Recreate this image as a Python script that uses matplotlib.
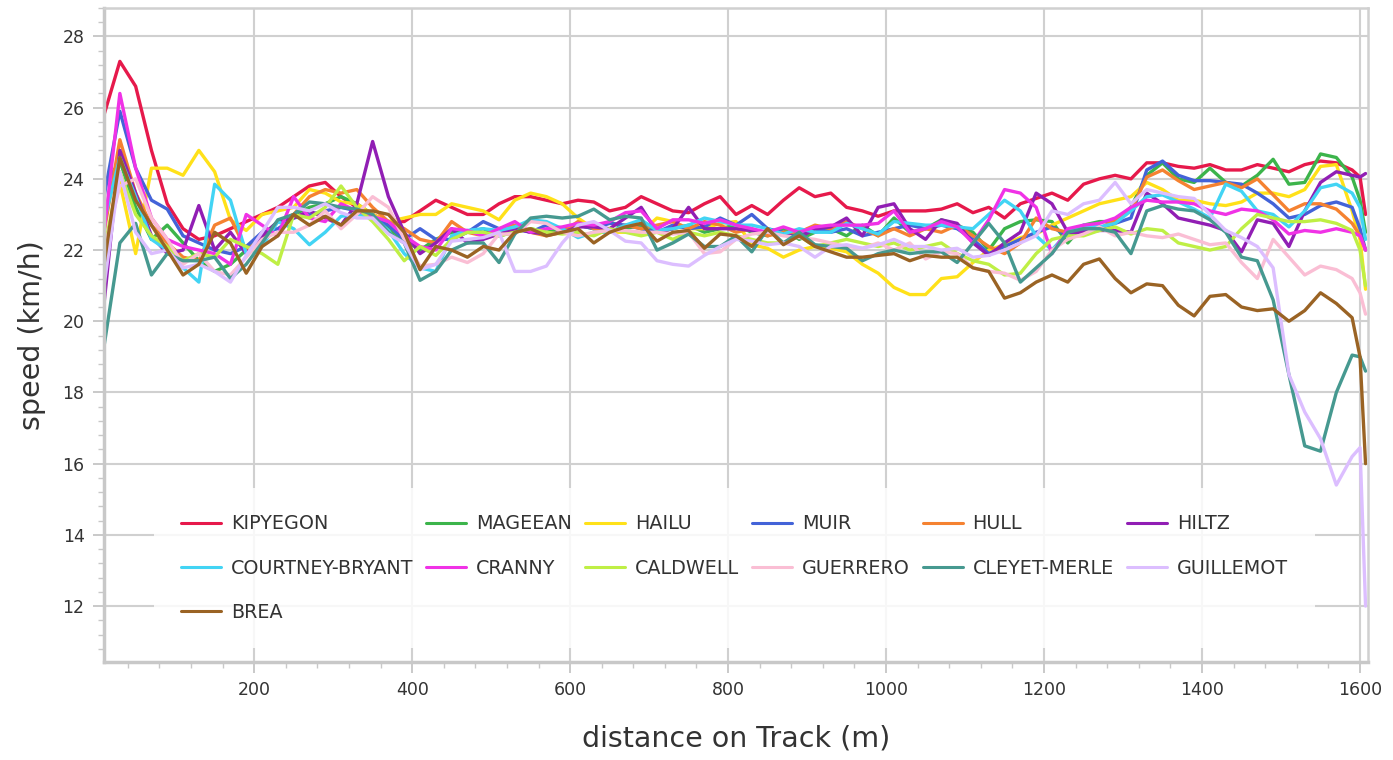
import numpy as np
import matplotlib
matplotlib.use("Agg")
import matplotlib.pyplot as plt
from matplotlib.ticker import MultipleLocator

# ==========================
# Data (speed in km/h, sampled along the track)
# ==========================
distance = np.r_[np.arange(10, 1600, 20), 1600, 1607]

kipyegon = [25.8, 27.3, 26.6, 24.8, 23.3, 22.6, 22.3, 22.4, 22.6, 22.8,
            23.0, 23.2, 23.5, 23.8, 23.9, 23.5, 23.2, 23.0, 22.8, 22.8,
            23.1, 23.4, 23.2, 23.0, 23.0, 23.3, 23.5, 23.5, 23.4, 23.3,
            23.4, 23.35, 23.1, 23.2, 23.5, 23.3, 23.1, 23.05, 23.3, 23.5,
            23.0, 23.25, 23.0, 23.4, 23.75, 23.5, 23.6, 23.2, 23.1, 22.95,
            23.1, 23.1, 23.1, 23.15, 23.3, 23.05, 23.2, 22.9, 23.3, 23.45,
            23.6, 23.4, 23.85, 24.0, 24.1, 24.0, 24.45, 24.45, 24.35, 24.3,
            24.4, 24.25, 24.25, 24.4, 24.3, 24.2, 24.4, 24.5, 24.45, 24.25,
            24.05, 23.0]
mageean = [23.8, 24.5, 23.2, 22.3, 22.7, 22.2, 21.7, 21.4, 21.6, 22.0,
           22.4, 22.8, 23.0, 23.2, 23.3, 23.5, 23.3, 23.0, 22.6, 22.3,
           22.0, 22.3, 22.5, 22.5, 22.6, 22.4, 22.5, 22.6, 22.5, 22.6,
           22.7, 22.6, 22.8, 22.6, 22.7, 22.5, 22.6, 22.7, 22.5, 22.6,
           22.7, 22.5, 22.4, 22.6, 22.3, 22.5, 22.6, 22.4, 22.7, 22.4,
           22.9, 22.5, 22.6, 22.85, 22.7, 22.5, 22.0, 22.6, 22.8, 22.85,
           22.8, 22.2, 22.7, 22.8, 22.8, 23.2, 24.1, 24.45, 24.0, 23.9,
           24.3, 23.9, 23.8, 24.1, 24.55, 23.85, 23.9, 24.7, 24.6, 24.05,
           23.4, 22.5]
hailu = [22.0, 23.9, 21.9, 24.3, 24.3, 24.1, 24.8, 24.2, 22.85, 22.55,
         23.0, 23.1, 23.2, 23.7, 23.6, 23.35, 23.3, 23.0, 22.8, 22.9,
         23.0, 23.0, 23.3, 23.2, 23.1, 22.85, 23.4, 23.6, 23.5, 23.3,
         22.9, 22.6, 22.5, 22.5, 22.5, 22.9, 22.8, 22.6, 22.6, 22.75,
         22.8, 22.15, 22.05, 21.8, 22.0, 22.1, 22.05, 21.95, 21.6, 21.35,
         20.95, 20.75, 20.75, 21.2, 21.25, 21.65, 22.0, 22.15, 22.35, 22.45,
         22.7, 22.9, 23.1, 23.3, 23.4, 23.5, 23.9, 23.7, 23.4, 23.4,
         23.3, 23.25, 23.35, 23.6, 23.6, 23.5, 23.7, 24.35, 24.4, 23.1,
         22.3, 20.9]
muir = [23.5, 25.9, 24.3, 23.4, 23.15, 22.4, 22.2, 22.0, 21.9, 22.1,
        22.5, 22.6, 22.9, 23.0, 23.1, 23.2, 23.1, 22.9, 22.7, 22.3,
        22.6, 22.3, 22.3, 22.5, 22.8, 22.6, 22.6, 22.5, 22.7, 22.6,
        22.7, 22.6, 22.75, 22.7, 22.6, 22.5, 22.7, 22.6, 22.65, 22.9,
        22.7, 23.0, 22.6, 22.5, 22.4, 22.6, 22.5, 22.6, 22.4, 22.5,
        22.6, 22.7, 22.6, 22.7, 22.6, 22.3, 21.9, 22.1, 22.3, 22.5,
        22.65, 22.4, 22.55, 22.6, 22.75, 22.9, 24.25, 24.5, 24.1, 23.95,
        23.95, 23.9, 23.85, 23.6, 23.3, 22.9, 23.0, 23.25, 23.35, 23.2,
        22.6, 22.0]
hull = [22.5, 25.1, 23.6, 22.7, 22.2, 21.8, 21.7, 22.7, 22.9, 22.0,
        22.3, 22.8, 23.0, 23.5, 23.7, 23.6, 23.7, 23.2, 22.8, 22.6,
        22.3, 22.2, 22.8, 22.5, 22.4, 22.6, 22.7, 22.5, 22.4, 22.5,
        22.8, 22.6, 22.5, 22.7, 22.6, 22.7, 22.8, 22.6, 22.8, 22.7,
        22.5, 22.6, 22.4, 22.5, 22.5, 22.7, 22.6, 22.8, 22.6, 22.4,
        22.6, 22.4, 22.6, 22.5, 22.7, 22.4, 22.1, 21.9, 22.2, 22.9,
        22.6, 22.5, 22.65, 22.6, 22.85, 23.1, 24.05, 24.25, 23.95, 23.7,
        23.8, 23.9, 23.75, 24.0, 23.55, 23.1, 23.3, 23.3, 23.15, 22.75,
        22.4, 22.0]
hiltz = [20.5, 24.8, 23.6, 22.4, 21.9, 22.0, 23.25, 22.0, 22.5, 21.9,
         22.4, 22.8, 22.9, 23.1, 22.9, 22.7, 23.3, 25.05, 23.5, 22.5,
         21.9, 22.2, 22.6, 22.2, 22.3, 22.45, 22.6, 22.5, 22.45, 22.5,
         22.65, 22.65, 22.6, 22.9, 23.2, 22.5, 22.6, 23.2, 22.6, 22.6,
         22.6, 22.55, 22.5, 22.45, 22.35, 22.6, 22.65, 22.9, 22.4, 23.2,
         23.3, 22.6, 22.3, 22.85, 22.75, 22.2, 21.85, 22.2, 22.5, 23.6,
         23.3, 22.5, 22.5, 22.55, 22.55, 22.5, 23.6, 23.3, 22.9, 22.8,
         22.7, 22.55, 21.95, 22.85, 22.75, 22.1, 23.1, 23.9, 24.2, 24.1,
         24.05, 24.15]
courtney_bryant = [22.8, 24.6, 23.5, 22.3, 22.0, 21.5, 21.1, 23.85, 23.4, 21.9,
                   22.1, 22.8, 22.6, 22.15, 22.5, 22.95, 23.0, 22.95, 22.55, 21.9,
                   21.5, 21.4, 22.4, 22.55, 22.6, 22.55, 22.65, 22.85, 22.8, 22.6,
                   22.35, 22.5, 22.5, 22.7, 22.85, 22.55, 22.6, 22.7, 22.9, 22.8,
                   22.7, 22.7, 22.6, 22.45, 22.6, 22.5, 22.5, 22.75, 22.6, 22.45,
                   22.8, 22.75, 22.7, 22.7, 22.65, 22.6, 23.0, 23.4, 23.1, 22.4,
                   22.0, 22.5, 22.7, 22.65, 22.75, 23.1, 23.5, 23.55, 23.35, 23.15,
                   22.9, 23.85, 23.65, 23.1, 23.0, 22.65, 23.1, 23.75, 23.85, 23.6,
                   23.2, 22.3]
cranny = [22.5, 26.4, 24.3, 22.9, 22.3, 22.1, 22.0, 21.9, 21.6, 23.0,
          22.7, 22.4, 23.5, 22.9, 22.8, 23.3, 23.1, 22.95, 22.8, 22.4,
          22.1, 22.0, 22.6, 22.55, 22.4, 22.6, 22.8, 22.5, 22.6, 22.65,
          22.75, 22.7, 22.8, 23.05, 23.1, 22.6, 22.85, 22.85, 22.75, 22.85,
          22.7, 22.6, 22.5, 22.65, 22.5, 22.65, 22.7, 22.7, 22.7, 22.75,
          23.1, 22.5, 22.6, 22.8, 22.65, 22.2, 22.85, 23.7, 23.6, 23.2,
          21.9, 22.6, 22.7, 22.75, 22.9, 23.2, 23.4, 23.35, 23.35, 23.3,
          23.1, 23.0, 23.15, 23.1, 22.85, 22.45, 22.55, 22.5, 22.6, 22.5,
          22.4, 22.0]
caldwell = [22.0, 24.2, 23.0, 22.4, 22.1, 21.7, 21.9, 21.8, 22.3, 22.1,
            21.9, 21.6, 23.0, 22.9, 23.2, 23.8, 23.2, 22.8, 22.3, 21.7,
            22.1, 21.85, 22.3, 22.5, 22.5, 22.4, 22.5, 22.6, 22.5, 22.45,
            22.5, 22.4, 22.6, 22.5, 22.4, 22.5, 22.3, 22.5, 22.4, 22.5,
            22.4, 22.3, 22.2, 22.2, 22.4, 22.1, 22.2, 22.3, 22.2, 22.1,
            22.2, 22.0, 22.1, 22.2, 21.9, 21.7, 21.6, 21.3, 21.35, 21.9,
            22.3, 22.4, 22.4, 22.55, 22.65, 22.45, 22.6, 22.55, 22.2, 22.1,
            22.0, 22.1, 22.6, 23.0, 22.9, 22.8, 22.8, 22.85, 22.75, 22.55,
            22.0, 21.0]
guerrero = [22.0, 23.8, 24.0, 22.9, 22.3, 21.6, 21.9, 21.4, 21.3, 21.8,
            22.3, 22.5, 22.5, 22.7, 23.1, 22.6, 23.0, 23.5, 23.2, 22.3,
            21.55, 21.6, 21.8, 21.65, 21.9, 22.45, 22.45, 22.8, 22.75, 22.5,
            22.4, 22.5, 22.55, 22.55, 22.5, 22.5, 22.45, 22.5, 21.9, 21.95,
            22.3, 22.45, 22.5, 22.4, 22.35, 22.3, 22.2, 22.1, 22.05, 22.2,
            22.0, 22.2, 21.75, 21.95, 21.9, 21.5, 21.4, 21.35, 21.15, 21.4,
            22.0, 22.3, 22.45, 22.65, 22.4, 22.5, 22.4, 22.35, 22.45, 22.3,
            22.15, 22.2, 21.65, 21.2, 22.3, 21.8, 21.3, 21.55, 21.45, 21.2,
            20.8, 20.2]
cleyet_merle = [19.3, 22.2, 22.75, 21.3, 21.9, 21.7, 21.7, 21.8, 21.2, 21.6,
                22.2, 22.85, 23.0, 23.35, 23.3, 23.2, 23.15, 23.0, 22.5, 22.2,
                21.15, 21.4, 22.0, 22.2, 22.2, 21.65, 22.45, 22.9, 22.95, 22.9,
                22.95, 23.15, 22.85, 22.95, 22.9, 22.0, 22.2, 22.45, 22.1, 22.1,
                22.4, 21.95, 22.6, 22.2, 22.5, 22.15, 22.1, 22.05, 21.7, 21.9,
                22.0, 21.9, 21.95, 21.95, 21.65, 22.2, 22.75, 22.2, 21.1, 21.5,
                21.9, 22.5, 22.6, 22.6, 22.5, 21.9, 23.1, 23.25, 23.15, 23.1,
                22.85, 22.5, 21.8, 21.7, 20.6, 18.5, 16.5, 16.35, 18.0, 19.05,
                19.0, 18.6]
guillemot = [21.0, 24.2, 22.5, 21.9, 22.0, 21.5, 21.6, 21.4, 21.1, 21.85,
             22.5, 23.2, 23.2, 23.1, 23.3, 23.05, 22.9, 22.9, 22.45, 22.2,
             21.45, 21.6, 22.25, 22.3, 22.35, 22.5, 21.4, 21.4, 21.55, 22.2,
             22.7, 22.8, 22.55, 22.25, 22.2, 21.7, 21.6, 21.55, 21.85, 22.1,
             22.3, 22.25, 22.15, 22.2, 22.1, 21.8, 22.1, 22.15, 22.05, 22.15,
             22.3, 22.1, 22.1, 22.0, 22.05, 21.8, 21.85, 22.0, 22.2, 22.4,
             23.1, 23.0, 23.3, 23.4, 23.9, 23.3, 23.7, 23.6, 23.5, 23.45,
             23.0, 22.55, 22.35, 22.1, 21.5, 18.5, 17.45, 16.7, 15.4, 16.2,
             16.45, 12.0]
brea = [21.6, 24.6, 23.4, 22.7, 22.0, 21.3, 21.6, 22.5, 22.2, 21.35,
        22.1, 22.4, 23.0, 22.7, 22.95, 22.7, 23.1, 23.1, 23.0, 22.5,
        21.45, 22.1, 22.0, 21.8, 22.1, 22.0, 22.5, 22.6, 22.4, 22.5,
        22.6, 22.2, 22.5, 22.65, 22.75, 22.25, 22.5, 22.55, 22.05, 22.45,
        22.4, 22.1, 22.6, 22.15, 22.4, 22.1, 21.95, 21.8, 21.8, 21.85,
        21.9, 21.7, 21.85, 21.8, 21.8, 21.5, 21.4, 20.65, 20.8, 21.1,
        21.3, 21.1, 21.6, 21.75, 21.2, 20.8, 21.05, 21.0, 20.45, 20.15,
        20.7, 20.75, 20.4, 20.3, 20.35, 20.0, 20.3, 20.8, 20.5, 20.1,
        19.0, 16.0]

runners = ["KIPYEGON", "MAGEEAN", "HAILU", "MUIR", "HULL", "HILTZ",
           "COURTNEY-BRYANT", "CRANNY", "CALDWELL", "GUERRERO",
           "CLEYET-MERLE", "GUILLEMOT", "BREA"]
speeds = [kipyegon, mageean, hailu, muir, hull, hiltz, courtney_bryant,
          cranny, caldwell, guerrero, cleyet_merle, guillemot, brea]
colors = ["#e6194b", "#3cb44b", "#ffe119", "#4363d8", "#f58231", "#911eb4",
          "#42d4f4", "#f032e6", "#bfef45", "#fabed4", "#469990", "#dcbeff",
          "#9a6324"]

# ==========================
# Plot
# ==========================
plt.rcParams['font.family'] = ['DejaVu Sans']
fig = plt.figure(figsize=(13.93, 7.6), dpi=100)
ax = fig.add_axes([0.0747, 0.129, 0.9073, 0.8605])

lines = {}
for name, v, c in zip(runners, speeds, colors):
    ln, = ax.plot(distance, v, color=c, lw=2.4, solid_joinstyle='round',
                  solid_capstyle='round', label=name)
    lines[name] = ln

ax.set_xlim(10, 1610)
ax.set_ylim(10.43, 28.8)
ax.xaxis.set_major_locator(MultipleLocator(200))
ax.xaxis.set_minor_locator(MultipleLocator(40))
ax.yaxis.set_major_locator(MultipleLocator(2))
ax.yaxis.set_minor_locator(MultipleLocator(0.4))
ax.grid(True, which='major', color='#d0d0d0', lw=1.5)
ax.set_axisbelow(True)

for side in ['left', 'bottom']:
    ax.spines[side].set_color('#c8c8c8')
    ax.spines[side].set_linewidth(2.5)
for side in ['top', 'right']:
    ax.spines[side].set_color('#d0d0d0')
    ax.spines[side].set_linewidth(1.8)

ax.tick_params(which='major', length=8, width=1.2, color='#c0c0c0',
               labelsize=12.5, labelcolor='#333333', pad=6)
ax.tick_params(which='minor', length=4, width=1.0, color='#c8c8c8')

ax.set_xlabel("distance on Track (m)", fontsize=20.5, color='#333333', labelpad=18)
ax.set_ylabel("speed (km/h)", fontsize=20.5, color='#333333', labelpad=12)

# legend: 6 columns, filled row by row like the original
order = ["KIPYEGON", "COURTNEY-BRYANT", "BREA", "MAGEEAN", "CRANNY", "HAILU",
         "CALDWELL", "MUIR", "GUERRERO", "HULL", "CLEYET-MERLE", "HILTZ",
         "GUILLEMOT"]
leg = ax.legend([lines[n] for n in order], order, ncol=6, loc='lower left',
                bbox_to_anchor=(0.032, 0.006), fontsize=13.8, frameon=True,
                fancybox=False, handlelength=2.08, handletextpad=0.52,
                columnspacing=0.68, labelspacing=1.31, borderpad=1.4)
leg.get_frame().set_facecolor('white')
leg.get_frame().set_edgecolor('none')
leg.get_frame().set_alpha(0.85)
for t in leg.get_texts():
    t.set_color('#333333')
for h in leg.get_lines():
    h.set_linewidth(2.2)

fig.savefig("out.png", dpi=100)
